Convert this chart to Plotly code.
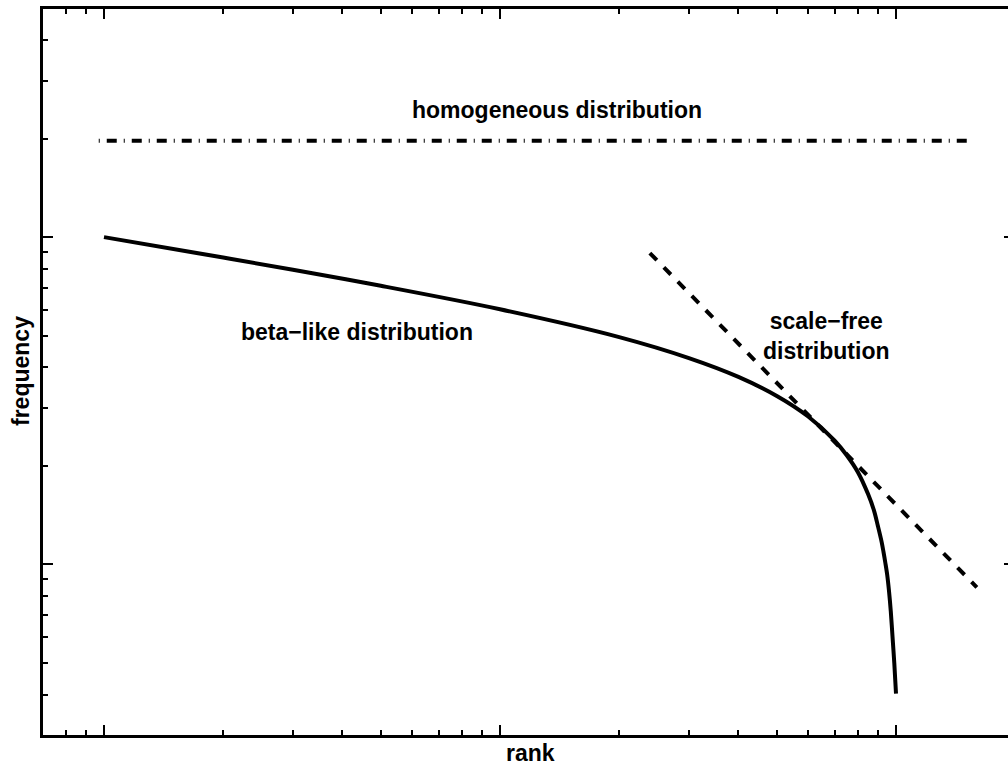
import plotly.graph_objects as go

# ---- data (log-log axes, no tick labels) ----
beta_rank = [1, 2, 3, 5, 10, 20, 30, 40, 50, 60, 70, 75, 80, 85, 88, 90, 92, 93, 94, 95, 96, 97, 98, 99, 100]
beta_freq = [1, 0.866, 0.795, 0.710, 0.602, 0.495, 0.427, 0.374, 0.327, 0.283, 0.239, 0.216, 0.192,
             0.164, 0.146, 0.131, 0.117, 0.109, 0.101, 0.093, 0.083, 0.072, 0.060, 0.050, 0.0403]

homog_rank = [0.97, 151]
homog_freq = [1.97, 1.97]

scalefree_rank = [23.9, 160]
scalefree_freq = [0.894, 0.0851]

x_major = [1, 10, 100]
x_minor = [0.8, 0.9, 2, 3, 4, 5, 6, 7, 8, 9, 20, 30, 40, 50, 60, 70, 80, 90]
y_major = [0.1, 1]
y_minor = [0.03, 0.04, 0.05, 0.06, 0.07, 0.08, 0.09, 0.2, 0.3, 0.4, 0.5, 0.6, 0.7, 0.8, 0.9, 2, 3, 4, 5]

FONT = "Liberation Sans"
W, H = 1008, 767
ML, MR, MT, MB = 43, 0, 9, 32

fig = go.Figure()
fig.add_trace(go.Scatter(x=homog_rank, y=homog_freq, mode="lines",
                         line=dict(color="black", width=4, dash="1px,7px,10px,7px"),
                         showlegend=False, hoverinfo="skip"))
fig.add_trace(go.Scatter(x=beta_rank, y=beta_freq, mode="lines",
                         line=dict(color="black", width=4, shape="spline", smoothing=0.9),
                         showlegend=False, hoverinfo="skip"))
fig.add_trace(go.Scatter(x=scalefree_rank, y=scalefree_freq, mode="lines",
                         line=dict(color="black", width=4, dash="10px,10px"),
                         showlegend=False, hoverinfo="skip"))

axis_common = dict(
    type="log", showgrid=False, zeroline=False, showticklabels=False,
    showline=True, linecolor="black", linewidth=3,
    ticks="inside", tickcolor="black", ticklen=10, tickwidth=2,
    tickmode="array",
)

fig.update_xaxes(**axis_common, mirror="ticks", tickvals=x_major, range=[-0.154, 2.2828],
                 minor=dict(tickmode="array", tickvals=x_minor, ticks="inside",
                            ticklen=5, tickwidth=2, tickcolor="black", showgrid=False))
fig.update_yaxes(**axis_common, mirror=False, tickvals=y_major, range=[-1.5214, 0.6972],
                 minor=dict(tickmode="array", tickvals=y_minor, ticks="inside",
                            ticklen=5, tickwidth=2, tickcolor="black", showgrid=False))

# tips of the right-hand major ticks (the right frame itself lies just outside the page)
plot_w = W - ML - MR
plot_h = H - MT - MB
for py in (237, 564):
    yp = (H - MB - py) / plot_h
    fig.add_shape(type="line", xref="paper", yref="paper",
                  x0=(1004 - ML) / plot_w, x1=1.0, y0=yp, y1=yp,
                  line=dict(color="black", width=2))

txt = dict(family=FONT, size=23, color="black", weight="bold")


def px(xp):
    return (xp - ML) / plot_w


def py_(yp):
    return (H - MB - yp) / plot_h


annotations = [
    dict(text="homogeneous distribution", x=px(557), y=py_(110)),
    dict(text="beta\u2212like distribution", x=px(357), y=py_(332)),
    dict(text="scale\u2212free<br>distribution", x=px(826), y=py_(336)),
    dict(text="rank", x=px(530), y=py_(753)),
    dict(text="frequency", x=px(21), y=py_(371), textangle=-90),
]
for a in annotations:
    fig.add_annotation(xref="paper", yref="paper", showarrow=False,
                       xanchor="center", yanchor="middle", align="center",
                       font=txt, **a)

fig.update_layout(
    width=W, height=H,
    margin=dict(l=ML, r=MR, t=MT, b=MB),
    paper_bgcolor="white", plot_bgcolor="white",
)

fig.write_html("out.html")
